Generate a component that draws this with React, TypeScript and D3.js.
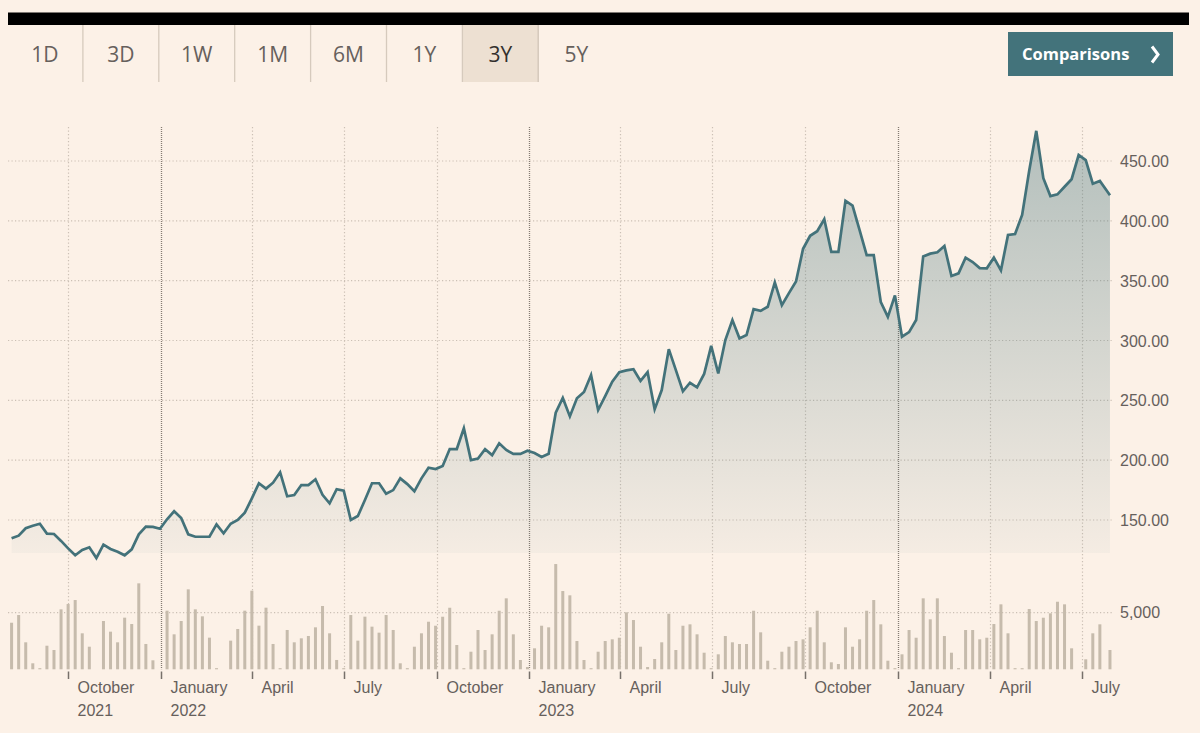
import React from "react";
import * as d3 from "d3";

// ---------- DATA ----------
const startDate = new Date(2021, 7, 6); // first weekly point
const lastDate = new Date(2024, 6, 29); // final (latest) point

const prices: number[] = [
  134.7, 136.9, 143.1, 145.2, 146.9, 138.6, 138.3, 132.5, 126.3, 120.5,
  124.9, 127.2, 118.2, 129.4, 125.8, 123.5, 120.5, 125.5, 138.0, 144.4,
  144.2, 142.7, 150.6, 157.3, 151.7, 138.0, 136.0, 136.0, 136.0, 146.4,
  138.9, 146.9, 150.0, 156.1, 168.1, 180.7, 176.2, 181.2, 189.9, 169.8,
  170.9, 179.2, 179.2, 184.0, 171.0, 164.0, 175.7, 174.5, 150.0, 153.3,
  166.7, 180.7, 180.7, 172.0, 175.0, 184.8, 180.0, 174.0, 184.8, 193.7,
  192.6, 195.2, 209.3, 209.3, 226.6, 200.1, 201.3, 209.2, 204.2, 214.1,
  208.5, 205.2, 205.2, 207.9, 206.0, 202.7, 205.3, 239.7, 252.0, 236.6,
  251.7, 257.0, 271.1, 241.9, 253.6, 265.6, 273.5, 275.0, 276.0, 266.3,
  273.5, 242.5, 258.6, 292.8, 275.3, 257.5, 264.7, 260.9, 272.0, 295.5,
  272.4, 300.4, 317.1, 301.8, 304.6, 326.2, 324.8, 328.2, 348.6, 329.6,
  339.6, 349.3, 376.6, 387.5, 391.3, 401.3, 374.0, 374.0, 416.8, 412.8,
  392.3, 371.4, 371.4, 332.0, 319.7, 337.7, 303.2, 307.0, 317.1, 370.3,
  372.6, 373.7, 379.0, 353.9, 356.1, 369.2, 365.6, 360.5, 360.3, 369.2,
  358.6, 388.2, 389.0, 404.9, 441.8, 475.2, 435.6, 420.7, 422.1, 428.5,
  434.8, 455.0, 450.8, 431.0, 433.3, 421.3,
];

const volumes: number[] = [
  4115, 4795, 2384, 530, 100, 2084, 1704, 5298, 5766, 6119,
  3179, 1996, 0, 4267, 3325, 2384, 4562, 4000, 7593, 2237,
  794, 0, 5180, 3090, 4267, 7063, 5298, 4680, 2796, 100,
  0, 2531, 3561, 5180, 6946, 3855, 5445, 2237, 100, 3473,
  2384, 2737, 2943, 3708, 5592, 3179, 824, 100, 4795, 2531,
  4650, 3767, 3237, 4795, 3473, 530, 100, 1996, 3179, 4203,
  3850, 4645, 5439, 2146, 100, 1554, 3470, 1704, 3090, 5174,
  6269, 3090, 821, 200, 1854, 3850, 3708, 9298, 6914, 6534,
  2499, 821, 100, 1554, 2499, 2649, 2790, 5033, 4353, 1996,
  200, 909, 2384, 4909, 1704, 3850, 3973, 3090, 1466, 100,
  1324, 2940, 2384, 2234, 2234, 5174, 3267, 759, 100, 1554,
  1996, 2499, 2649, 3708, 5174, 2384, 618, 468, 3708, 1996,
  2649, 5174, 6119, 3973, 759, 100, 1324, 3470, 2790, 6269,
  4415, 6269, 2940, 1466, 100, 3470, 3470, 2649, 2790, 4000,
  5739, 3179, 100, 100, 5325, 4265, 4556, 4945, 5969, 5739,
  1854, 0, 883, 3179, 3973, 1704,
];

const priceTicks: number[] = [150, 200, 250, 300, 350, 400, 450];
const volumeTicks: number[] = [5000];

const monthTickDates: Date[] = [
  new Date(2021, 9, 1),
  new Date(2022, 0, 1),
  new Date(2022, 3, 1),
  new Date(2022, 6, 1),
  new Date(2022, 9, 1),
  new Date(2023, 0, 1),
  new Date(2023, 3, 1),
  new Date(2023, 6, 1),
  new Date(2023, 9, 1),
  new Date(2024, 0, 1),
  new Date(2024, 3, 1),
  new Date(2024, 6, 1),
];
const monthLabels: string[] = [
  "October", "January", "April", "July", "October", "January",
  "April", "July", "October", "January", "April", "July",
];
const yearLabels: string[] = [
  "2021", "2022", "", "", "", "2023", "", "", "", "2024", "", "",
];

const tabLabels: string[] = ["1D", "3D", "1W", "1M", "6M", "1Y", "3Y", "5Y"];
const activeTab = "3Y";

// ---------- STYLE ----------
const BG = "#fcf1e7";
const LINE = "#43727a";
const TEXT = "#66605c";
const GRID = "#cbc0b5";
const AXIS_FONT = "'Liberation Sans', Arial, sans-serif";
const UI_FONT = "'Open Sans', 'Noto Sans', sans-serif";

export default function App() {
  const W = 1200;
  const H = 733;

  const plotLeft = 8;
  const plotRight = 1112;
  const gridTop = 127;
  const areaBottom = 553;
  const volBase = 669.3;

  const dates = prices.map((_, i) =>
    i === prices.length - 1 ? lastDate : d3.timeDay.offset(startDate, i * 7)
  );

  const x = d3
    .scaleTime()
    .domain([new Date(2022, 0, 1), new Date(2024, 6, 1)])
    .range([161, 1081.7]);
  const y = d3.scaleLinear().domain([150, 450]).range([520, 161]);
  const yv = d3.scaleLinear().domain([0, 5000]).range([volBase, 612.7]);

  const line = d3
    .line<number>()
    .x((_, i) => x(dates[i]))
    .y((d) => y(d))
    .curve(d3.curveLinear);

  const area = d3
    .area<number>()
    .x((_, i) => x(dates[i]))
    .y0(areaBottom)
    .y1((d) => y(d))
    .curve(d3.curveLinear);

  const tabX = d3
    .scaleBand<string>()
    .domain(tabLabels)
    .range([7, 7 + 75.9 * tabLabels.length]);

  return (
    <svg
      width={W}
      height={H}
      viewBox={`0 0 ${W} ${H}`}
      style={{ position: "absolute", left: 0, top: 0, display: "block" }}
    >
      <defs>
        <linearGradient
          id="areaGrad"
          gradientUnits="userSpaceOnUse"
          x1={0}
          y1={125}
          x2={0}
          y2={areaBottom}
        >
          <stop offset="0%" stopColor={LINE} stopOpacity={0.4} />
          <stop offset="100%" stopColor={LINE} stopOpacity={0.04} />
        </linearGradient>
      </defs>
      <rect x={0} y={0} width={W} height={H} fill={BG} />

      {/* Top black bar */}
      <rect x={8} y={12.5} width={1181} height={12.5} fill="#000" />

      {/* Tabs */}
      {tabLabels.map((t, i) => {
        const bx = tabX(t)!;
        const bw = tabX.bandwidth();
        const active = t === activeTab;
        return (
          <g key={t}>
            {active && (
              <rect x={bx} y={25} width={bw} height={57} fill="#ede0d2" />
            )}
            {i > 0 && (
              <line
                x1={bx}
                x2={bx}
                y1={25}
                y2={82}
                stroke="#d6cabd"
                strokeWidth={1.3}
              />
            )}
            {active && (
              <line
                x1={bx + bw}
                x2={bx + bw}
                y1={25}
                y2={82}
                stroke="#d6cabd"
                strokeWidth={1.3}
              />
            )}
            <text
              x={bx + bw / 2}
              y={62}
              textAnchor="middle"
              fontFamily={UI_FONT}
              fontSize={21}
              fill={active ? "#33302e" : TEXT}
            >
              {t}
            </text>
          </g>
        );
      })}

      {/* Comparisons button */}
      <rect x={1008} y={32} width={165} height={44} fill="#43737b" />
      <text
        x={1022}
        y={60}
        fontFamily={UI_FONT}
        fontWeight={700}
        fontSize={16.5}
        fill="#ffffff"
      >
        Comparisons
      </text>
      <path
        d="M1152,46.5 L1158,54.5 L1152,62.5"
        fill="none"
        stroke="#ffffff"
        strokeWidth={3}
      />

      {/* Horizontal price gridlines */}
      {priceTicks.map((p) => (
        <line
          key={`pg${p}`}
          x1={plotLeft}
          x2={plotRight}
          y1={y(p)}
          y2={y(p)}
          stroke={GRID}
          strokeWidth={1.2}
          strokeDasharray="1.2 2.3"
        />
      ))}
      {volumeTicks.map((v) => (
        <line
          key={`vg${v}`}
          x1={plotLeft}
          x2={plotRight}
          y1={yv(v)}
          y2={yv(v)}
          stroke={GRID}
          strokeWidth={1.2}
          strokeDasharray="1.2 2.3"
        />
      ))}

      {/* Vertical month gridlines */}
      {monthTickDates.map((d, i) => {
        const xx = Math.round(x(d)) + 0.5;
        const isYear = d.getMonth() === 0;
        return (
          <line
            key={`vgl${i}`}
            x1={xx}
            x2={xx}
            y1={gridTop}
            y2={volBase}
            stroke={isYear ? "#857b73" : GRID}
            strokeWidth={isYear ? 1.3 : 1.2}
            strokeDasharray={isYear ? "1 1" : "1.2 2.3"}
          />
        );
      })}

      {/* Area + line */}
      <path d={area(prices) || ""} fill="url(#areaGrad)" />
      <path
        d={line(prices) || ""}
        fill="none"
        stroke={LINE}
        strokeWidth={2.7}
        strokeLinejoin="miter"
      />

      {/* Volume bars */}
      {volumes.map((v, i) => {
        const bx = x(dates[i]);
        const top = yv(v);
        return (
          <rect
            key={`vb${i}`}
            x={bx - 1.5}
            y={top}
            width={3}
            height={Math.max(0, volBase - top)}
            fill="#c6bbac"
          />
        );
      })}

      {/* Month ticks & labels */}
      {monthTickDates.map((d, i) => {
        const xx = Math.round(x(d)) + 0.5;
        return (
          <g key={`mt${i}`}>
            <line
              x1={xx}
              x2={xx}
              y1={671.5}
              y2={679}
              stroke="#77706a"
              strokeWidth={1.5}
            />
            <text
              x={xx + 9}
              y={693}
              fontFamily={AXIS_FONT}
              fontSize={16}
              fill={TEXT}
            >
              {monthLabels[i]}
            </text>
            {yearLabels[i] && (
              <text
                x={xx + 9}
                y={716}
                fontFamily={AXIS_FONT}
                fontSize={16}
                fill={TEXT}
              >
                {yearLabels[i]}
              </text>
            )}
          </g>
        );
      })}

      {/* Price axis labels */}
      {priceTicks.map((p) => (
        <text
          key={`pl${p}`}
          x={1120}
          y={y(p) + 6}
          fontFamily={AXIS_FONT}
          fontSize={16}
          fill={TEXT}
        >
          {d3.format(".2f")(p)}
        </text>
      ))}
      {volumeTicks.map((v) => (
        <text
          key={`vl${v}`}
          x={1120}
          y={yv(v) + 5}
          fontFamily={AXIS_FONT}
          fontSize={16}
          fill={TEXT}
        >
          {d3.format(",")(v)}
        </text>
      ))}
    </svg>
  );
}
